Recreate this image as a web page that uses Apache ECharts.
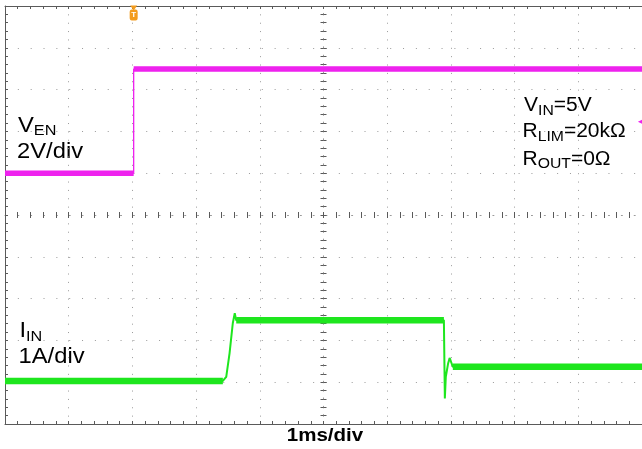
<!DOCTYPE html>
<html>
<head>
<meta charset="utf-8">
<script src="https://cdn.jsdelivr.net/npm/echarts@6/dist/echarts.min.js"></script>
<style>
html,body{margin:0;padding:0;background:#fff;}
#c{width:642px;height:449px;}
</style>
</head>
<body>
<div id="c"></div>
<script>
// Time axis in ms relative to screen centre (1 ms/div), vertical in divisions relative to centre
const xTicksMin = -5, xTicksMax = 5;
const yTicksMin = -5, yTicksMax = 5;

// V_EN trace (2 V/div)
const venTime  = [-5, -2.98, -2.98, 5];
const venLevel = [1.0, 1.0, 3.49, 3.49];

// I_IN trace (1 A/div)
const iinTime  = [-5, -1.58, -1.527, -1.475, -1.424, -1.393, -1.37, 1.89, 1.905, 1.92, 1.955, 1.98, 2.03, 5];
const iinLevel = [-3.97, -3.97, -3.87, -3.31, -2.59, -2.35, -2.52, -2.52, -4.39, -3.87, -3.56, -3.42, -3.63, -3.63];

// markers
const triggerTime = -2.98;
const venMarkerTime = 4.99;
const venMarkerLevel = 2.23;

const MAG = '#ee22ee', GRN = '#1ee61e', ORANGE = '#f39c1e';

function pairs(t, v) { return t.map((x, i) => [x, v[i]]); }
// flat (settled) portions drawn as thick bands
function flats(t, v) {
  const out = [];
  for (let i = 0; i < t.length - 1; i++) {
    if (v[i] === v[i + 1]) { out.push([t[i], v[i]], [t[i + 1], v[i + 1]]); }
    out.push([t[i + 1], null]);
  }
  return out;
}

const FONT = '"Liberation Sans", Arial, sans-serif';
const mctx = document.createElement('canvas').getContext('2d');
function label(x, baseline, parts, sx, align) {
  const els = [];
  let total = 0;
  const widths = parts.map(p => {
    const font = (p[3] || 'normal') + ' ' + p[1] + 'px ' + FONT;
    mctx.font = font;
    const w = mctx.measureText(p[0]).width * sx;
    total += w;
    return w;
  });
  let cx = align === 'center' ? x - total / 2 : x;
  parts.forEach((p, i) => {
    const font = (p[3] || 'normal') + ' ' + p[1] + 'px ' + FONT;
    els.push({
      type: 'text', x: cx, y: baseline + (p[2] || 0) - 0.34 * p[1], scaleX: sx, silent: true,
      style: { text: p[0], font: font, fill: '#000', align: 'left', verticalAlign: 'middle' }
    });
    cx += widths[i];
  });
  return els;
}

const graphics = [].concat(
  label(18, 133, [['V', 22], ['EN', 15, 3]], 1.08),
  label(17, 159, [['2V/div', 22]], 1.08),
  label(19.5, 338.7, [['I', 22], ['IN', 15, 3]], 1.08),
  label(18.5, 364.7, [['1A/div', 22]], 1.08),
  label(524, 112.7, [['V', 20], ['IN', 15, 3], ['=5V', 20]], 1.05),
  label(522.5, 138.7, [['R', 20], ['LIM', 15, 3], ['=20kΩ', 20]], 1.05),
  label(522.5, 166, [['R', 20], ['OUT', 15, 3], ['=0Ω', 20]], 1.05),
  label(325, 442.3, [['1ms/div', 19, 0, 'bold']], 1.08, 'center')
);

const BORDER = '#5a5a5a', GRIDC = '#9a9a9a';
const hidden = { show: false };

function xAx(pos, onZero, inside, extra) {
  return Object.assign({
    type: 'value', min: xTicksMin, max: xTicksMax, interval: 1, position: pos,
    axisLine: { show: true, onZero: onZero, onZeroAxisIndex: 0, lineStyle: { color: BORDER, width: 1 } },
    axisTick: { show: true, inside: inside, length: 3, lineStyle: { color: BORDER } },
    minorTick: { show: true, splitNumber: 5, length: 3, lineStyle: { color: BORDER } },
    axisLabel: hidden, splitLine: hidden, minorSplitLine: hidden
  }, extra || {});
}
function yAx(pos, onZero, inside, extra) {
  return Object.assign({
    type: 'value', min: yTicksMin, max: yTicksMax, interval: 1, position: pos,
    axisLine: { show: true, onZero: onZero, onZeroAxisIndex: 0, lineStyle: { color: BORDER, width: 1 } },
    axisTick: { show: true, inside: inside, length: 3, lineStyle: { color: BORDER } },
    minorTick: { show: true, splitNumber: 5, length: 3, lineStyle: { color: BORDER } },
    axisLabel: hidden, splitLine: hidden, minorSplitLine: hidden
  }, extra || {});
}

const option = {
  animation: false,
  backgroundColor: '#fff',
  grid: { left: 5, top: 6, width: 642, height: 418, containLabel: false },
  xAxis: [
    xAx('bottom', false, true, { splitLine: { show: true, lineStyle: { color: GRIDC, width: 1, type: [1, 7.36] } } }),
    xAx('top', false, true),
    xAx('bottom', true, true, { axisLine: { show: true, onZero: true, onZeroAxisIndex: 0, lineStyle: { color: GRIDC, type: [1, 11.84] } } }),
    xAx('bottom', true, false, { axisLine: { show: false, onZero: true, onZeroAxisIndex: 0 } })
  ],
  yAxis: [
    yAx('left', false, true, { splitLine: { show: true, lineStyle: { color: GRIDC, width: 1, type: [1, 11.84] } } }),
    yAx('left', true, true, { axisLine: { show: true, onZero: true, onZeroAxisIndex: 0, lineStyle: { color: GRIDC, type: [1, 7.36] } } }),
    yAx('left', true, false, { axisLine: { show: false, onZero: true, onZeroAxisIndex: 0 } })
  ],
  graphic: graphics,
  series: [
    {
      type: 'line', xAxisIndex: 0, yAxisIndex: 0, data: pairs(venTime, venLevel),
      symbol: 'none', lineStyle: { color: MAG, width: 1.3 }, z: 5,
      markPoint: {
        silent: true, animation: false,
        data: [
          { coord: [triggerTime, yTicksMax], symbol: 'triangle', symbolRotate: 180, symbolSize: [7, 5], symbolOffset: [0, 2], itemStyle: { color: ORANGE }, label: { show: false } },
          { coord: [triggerTime, yTicksMax], symbol: 'roundRect', symbolSize: [8, 11], symbolOffset: [0, 9], itemStyle: { color: ORANGE },
            label: { show: true, position: 'inside', formatter: 'T', color: '#fff', fontSize: 8, fontWeight: 'bold', fontFamily: FONT } },
          { coord: [venMarkerTime, venMarkerLevel], symbol: 'triangle', symbolRotate: 90, symbolSize: [7, 7], itemStyle: { color: MAG }, label: { show: false } }
        ]
      }
    },
    {
      type: 'line', xAxisIndex: 0, yAxisIndex: 0, data: flats(venTime, venLevel), connectNulls: false,
      symbol: 'none', lineStyle: { color: MAG, width: 5.5 }, z: 5
    },
    {
      type: 'line', xAxisIndex: 0, yAxisIndex: 0, data: pairs(iinTime, iinLevel),
      symbol: 'none', lineStyle: { color: GRN, width: 2 }, z: 4
    },
    {
      type: 'line', xAxisIndex: 0, yAxisIndex: 0, data: flats(iinTime, iinLevel), connectNulls: false,
      symbol: 'none', lineStyle: { color: GRN, width: 6.5 }, z: 4
    }
  ]
};

const chart = echarts.init(document.getElementById('c'), null, { renderer: 'canvas' });
chart.setOption(option);
</script>
</body>
</html>
